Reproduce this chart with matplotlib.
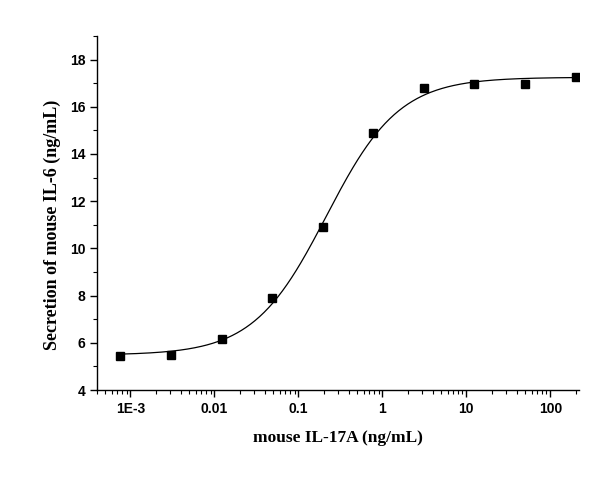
import numpy as np
import matplotlib
matplotlib.use("Agg")
import matplotlib.pyplot as plt
from matplotlib.ticker import FixedLocator, LogLocator, MultipleLocator, FuncFormatter

conc = [0.00076, 0.00305, 0.0122, 0.0488, 0.195, 0.78, 3.125, 12.5, 50, 200]
il6 = [5.45, 5.48, 6.17, 7.9, 10.9, 14.9, 16.8, 16.98, 16.98, 17.25]

# 4-parameter logistic fit parameters
fit_bottom = 5.48
fit_top = 17.25
fit_ec50 = 0.215
fit_hill = 1.0

xticks = [0.001, 0.01, 0.1, 1, 10, 100]
xtick_labels = ["1E-3", "0.01", "0.1", "1", "10", "100"]
yticks = [4, 6, 8, 10, 12, 14, 16, 18]

fig = plt.figure(figsize=(6.16, 4.86), dpi=100)
ax = fig.add_axes([0.1575, 0.1975, 0.7825, 0.7285])

xs = np.logspace(np.log10(0.00076), np.log10(200), 400)
ys = fit_bottom + (fit_top - fit_bottom) / (1 + (fit_ec50 / xs) ** fit_hill)
ax.plot(xs, ys, color="black", lw=0.9)
ax.plot(conc, il6, ls="none", marker="s", ms=6, color="black")

ax.set_xscale("log")
ax.set_xlim(0.0004, 220)
ax.set_ylim(4, 19)

for s in ["top", "right"]:
    ax.spines[s].set_visible(False)
for s in ["left", "bottom"]:
    ax.spines[s].set_linewidth(1.0)

ax.xaxis.set_major_locator(FixedLocator(xticks))
ax.xaxis.set_major_formatter(FuncFormatter(lambda v, p: dict(zip(xticks, xtick_labels)).get(v, "")))
ax.xaxis.set_minor_locator(LogLocator(base=10, subs=np.arange(2, 10), numticks=20))
ax.yaxis.set_major_locator(FixedLocator(yticks))
ax.yaxis.set_minor_locator(MultipleLocator(1))

ax.tick_params(which="major", direction="out", length=5, width=1.0)
ax.tick_params(which="minor", direction="out", length=3, width=0.8)
for lab in ax.get_xticklabels() + ax.get_yticklabels():
    lab.set_fontfamily("Liberation Sans")
    lab.set_fontweight("bold")
    lab.set_fontsize(10)

ax.set_xlabel("mouse IL-17A (ng/mL)", family="Liberation Serif", weight="bold", fontsize=12.5, labelpad=10)
ax.set_ylabel("Secretion of mouse IL-6 (ng/mL)", family="Liberation Serif", weight="bold", fontsize=13)
ax.yaxis.set_label_coords(-0.075, 0.466)

fig.savefig("out.png", dpi=100)
